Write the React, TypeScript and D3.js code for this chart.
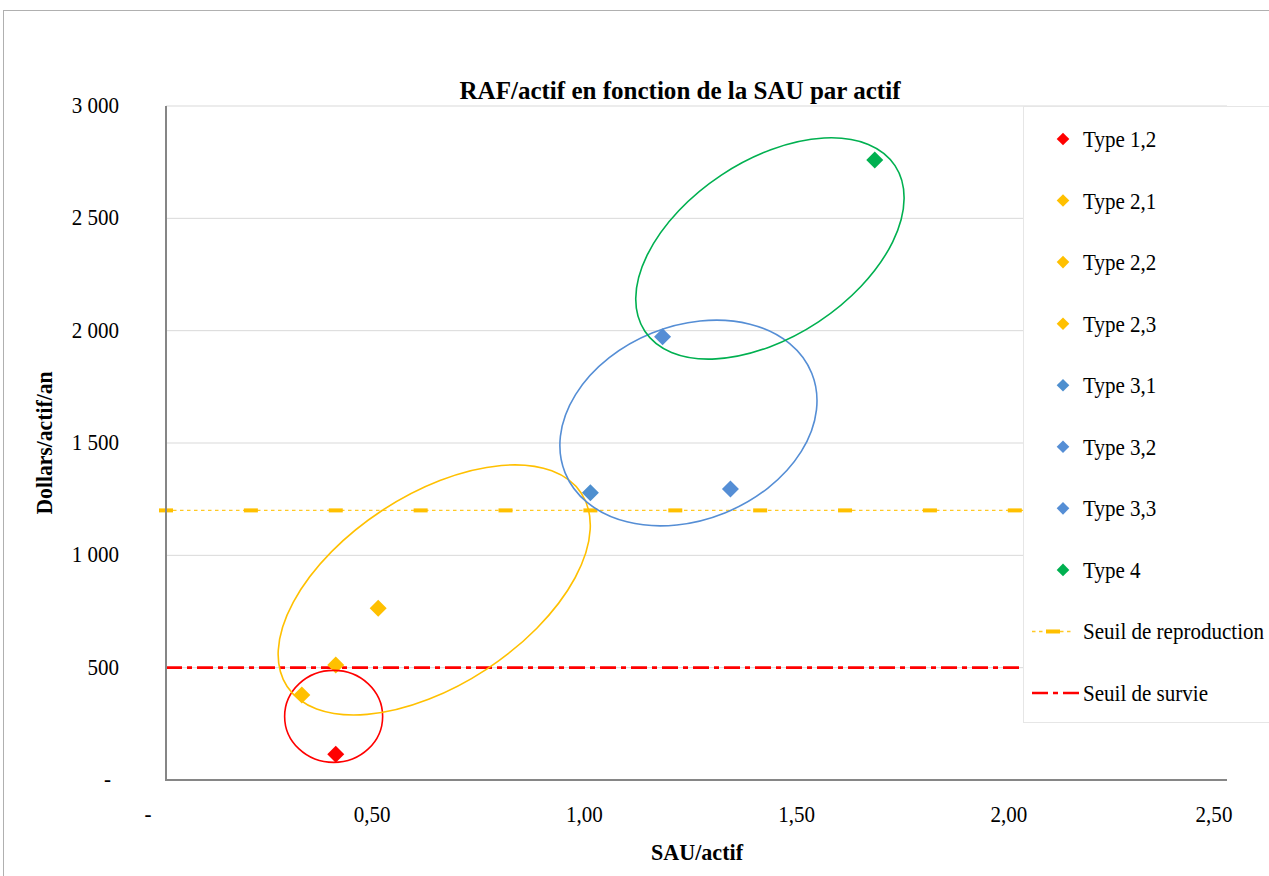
import React from "react";
import * as d3 from "d3";

// ---- data ----
const types = ["Type 1,2", "Type 2,1", "Type 2,2", "Type 2,3", "Type 3,1", "Type 3,2", "Type 3,3", "Type 4"];
const sauParActif = [0.4, 0.32, 0.4, 0.5, 1.0, 1.17, 1.33, 1.67];
const rafParActif = [115, 378, 512, 765, 1279, 1973, 1295, 2760];
const typeColors = ["#ff0000", "#ffc000", "#ffc000", "#ffc000", "#4e8fcf", "#558ed5", "#558ed5", "#00b050"];

const seuilReproduction = 1200;
const seuilSurvie = 500;
const reproMarkerX = [0, 0.2, 0.4, 0.6, 0.8, 1.0, 1.2, 1.4, 1.6, 1.8, 2.0, 2.2, 2.4];

const xTicks = [0, 0.5, 1.0, 1.5, 2.0, 2.5];
const yTicks = [0, 500, 1000, 1500, 2000, 2500, 3000];

// ellipse annotations: centre in data units, radii (px), rotation (deg)
const groupCx = [0.395, 0.632, 1.231, 1.423];
const groupCy = [283, 846, 1589, 2366];
const groupRx = [49, 176, 133, 150];
const groupRy = [46, 95, 97, 88];
const groupRot = [0, -33.3, -22, -33.5];
const groupColors = ["#ff0000", "#ffc000", "#558ed5", "#00b050"];

const W = 1269;
const H = 876;
const FONT = "'Liberation Serif', 'Times New Roman', serif";

const fmtX = (v: number) => (v === 0 ? "-" : d3.format(".2f")(v).replace(".", ","));
const fmtY = (v: number) => (v === 0 ? "-" : d3.format(",")(v).replace(/,/g, " "));

function Diamond({ cx, cy, r, fill }: { cx: number; cy: number; r: number; fill: string }) {
  return (
    <path
      d={`M${cx},${cy - r}L${cx + r},${cy}L${cx},${cy + r}L${cx - r},${cy}Z`}
      fill={fill}
    />
  );
}

function SText(props: { x: number; y: number; anchor?: string; size?: number; sx?: number; bold?: boolean; children: React.ReactNode }) {
  const { x, y, anchor = "start", size = 23, sx = 0.915, bold = false, children } = props;
  return (
    <g transform={`translate(${x},${y}) scale(${sx},1)`}>
      <text x={0} y={0} textAnchor={anchor} fontFamily={FONT} fontSize={size} fontWeight={bold ? "bold" : "normal"} fill="#000">
        {children}
      </text>
    </g>
  );
}

export default function App() {
  const x = d3.scaleLinear().domain([0, 2.5]).range([166, 1227]);
  const y = d3.scaleLinear().domain([0, 3000]).range([780, 106]);

  const legendX = 1023;
  const legendTop = 106;
  const legendBottom = 722;
  const rowY0 = 139;
  const rowStep = 61.56;

  const legendItems = [
    ...types.map((t, i) => ({ label: t, kind: "marker", color: typeColors[i] })),
    { label: "Seuil de reproduction", kind: "repro", color: "#ffc000" },
    { label: "Seuil de survie", kind: "survie", color: "#ff0000" },
  ];

  const xLabelDx = (v: number) => (v === 0 ? -18 : v === 2.5 ? -13 : -6);

  return (
    <svg width={W} height={H} style={{ position: "absolute", left: 0, top: 0, background: "#fff" }}>
      <rect x={0} y={0} width={W} height={H} fill="#fff" />
      {/* chart area border */}
      <rect x={3.5} y={10.5} width={W + 20} height={H + 20} fill="none" stroke="#b0b0b0" strokeWidth={1} />

      {/* gridlines */}
      {yTicks.filter((t) => t > 0).map((t) => (
        <line key={t} x1={x(0)} x2={x(2.5)} y1={y(t)} y2={y(t)} stroke="#d9d9d9" strokeWidth={1} />
      ))}

      {/* threshold lines */}
      <line x1={x(0)} x2={x(2.5)} y1={y(seuilReproduction)} y2={y(seuilReproduction)} stroke="#ffc000" strokeWidth={1.3} strokeDasharray="3.5,3.5" opacity={0.85} />
      {reproMarkerX.map((v) => (
        <rect key={v} x={x(v) - 7} y={y(seuilReproduction) - 2} width={14} height={4} fill="#ffc000" />
      ))}
      <line x1={x(0)} x2={x(2.5)} y1={y(seuilSurvie)} y2={y(seuilSurvie)} stroke="#ff0000" strokeWidth={2.6} strokeDasharray="16,5,5,5" />

      {/* axes */}
      <line x1={x(0)} x2={x(0)} y1={y(3000)} y2={y(0) + 1} stroke="#868686" strokeWidth={2} />
      <line x1={x(0) - 1} x2={x(2.5)} y1={y(0)} y2={y(0)} stroke="#868686" strokeWidth={2} />

      {/* points */}
      {types.map((t, i) => (
        <Diamond key={t} cx={x(sauParActif[i])} cy={y(rafParActif[i])} r={8.5} fill={typeColors[i]} />
      ))}

      {/* group ellipses */}
      {groupCx.map((cx, i) => (
        <ellipse
          key={i}
          cx={0}
          cy={0}
          rx={groupRx[i]}
          ry={groupRy[i]}
          transform={`translate(${x(cx)},${y(groupCy[i])}) rotate(${groupRot[i]})`}
          fill="none"
          stroke={groupColors[i]}
          strokeWidth={1.6}
        />
      ))}

      {/* legend */}
      <rect x={legendX + 0.5} y={legendTop + 0.5} width={W} height={legendBottom - legendTop} fill="#fff" stroke="#e6e6e6" strokeWidth={1} />
      {legendItems.map((it, i) => {
        const cy = rowY0 + i * rowStep;
        return (
          <g key={it.label}>
            {it.kind === "marker" && <Diamond cx={1063} cy={cy} r={6.3} fill={it.color} />}
            {it.kind === "repro" && (
              <g>
                <line x1={1032} x2={1074} y1={cy} y2={cy} stroke="#ffc000" strokeWidth={1.3} strokeDasharray="3.5,3.5" opacity={0.85} />
                <rect x={1046} y={cy - 2} width={14} height={4} fill="#ffc000" />
              </g>
            )}
            {it.kind === "survie" && (
              <line x1={1032} x2={1079} y1={cy} y2={cy} stroke="#ff0000" strokeWidth={2.6} strokeDasharray="16,5,5,5" />
            )}
            <SText x={1083} y={cy + 8}>{it.label}</SText>
          </g>
        );
      })}

      {/* y tick labels */}
      {yTicks.map((t) => (
        <SText key={t} x={t === 0 ? 111 : 119} y={y(t) + 7} anchor="end">{fmtY(t)}</SText>
      ))}
      {/* x tick labels */}
      {xTicks.map((t) => (
        <SText key={t} x={x(t) + xLabelDx(t)} y={822} anchor="middle">{fmtX(t)}</SText>
      ))}

      {/* titles */}
      <text x={680} y={99} textAnchor="middle" fontFamily={FONT} fontSize={25} fontWeight="bold" textLength={441} lengthAdjust="spacingAndGlyphs">
        RAF/actif en fonction de la SAU par actif
      </text>
      <text x={697} y={860} textAnchor="middle" fontFamily={FONT} fontSize={23} fontWeight="bold" textLength={92} lengthAdjust="spacingAndGlyphs">
        SAU/actif
      </text>
      <text transform={`translate(52,443) rotate(-90)`} x={0} y={0} textAnchor="middle" fontFamily={FONT} fontSize={23} fontWeight="bold" textLength={143} lengthAdjust="spacingAndGlyphs">
        Dollars/actif/an
      </text>
    </svg>
  );
}
